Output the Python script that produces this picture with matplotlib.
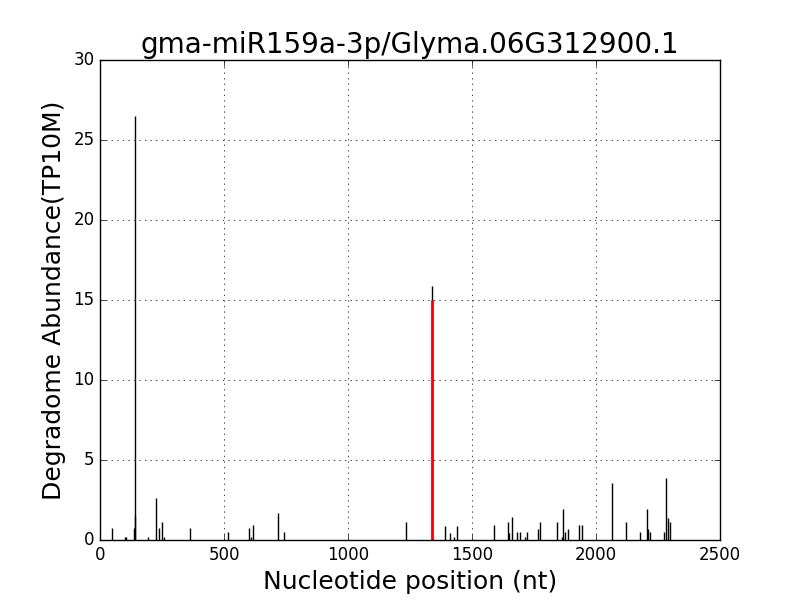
import numpy as np
import matplotlib
matplotlib.use('Agg')
import matplotlib.pyplot as plt

# degradome reads: position (nt) and abundance (TP10M)
positions = [50, 99, 103, 139, 141, 143, 195, 226, 239, 251, 259, 364, 517,
             601, 609, 618, 719, 743, 1232, 1340, 1391, 1413, 1427, 1441,
             1590, 1645, 1649, 1663, 1680, 1695, 1715, 1720, 1767, 1773,
             1841, 1863, 1868, 1876, 1888, 1933, 1945, 2066, 2122, 2179,
             2206, 2211, 2216, 2275, 2283, 2291, 2300]
abundance = [0.73, 0.2, 0.2, 0.73, 26.5, 1.5, 0.2, 2.6, 0.73, 1.14, 0.2, 0.73, 0.48,
             0.73, 0.2, 0.94, 1.66, 0.48, 1.14, 15.85, 0.9, 0.46, 0.2, 0.9,
             0.94, 1.14, 0.46, 1.41, 0.48, 0.48, 0.2, 0.48, 0.7, 1.14,
             1.14, 0.2, 1.91, 0.48, 0.7, 0.94, 0.94, 3.58, 1.14, 0.48,
             1.91, 0.7, 0.48, 0.48, 3.85, 1.4, 1.14]

# cleavage site
site_pos = [1340]
site_val = [15.0]

plt.style.use('classic')
fig = plt.figure(figsize=(8, 6), dpi=100)
ax = fig.add_subplot(111)

ax.vlines(positions, 0, abundance, colors='black', linewidth=1)
ax.vlines(site_pos, 0, site_val, colors='red', linewidth=2)

ax.set_xlim(0, 2500)
ax.set_ylim(0, 30)
ax.grid(True)
ax.set_title('gma-miR159a-3p/Glyma.06G312900.1', fontsize=20)
ax.set_xlabel('Nucleotide position (nt)', fontsize=18)
ax.set_ylabel('Degradome Abundance(TP10M)', fontsize=18)

fig.savefig('out.png', dpi=100)
